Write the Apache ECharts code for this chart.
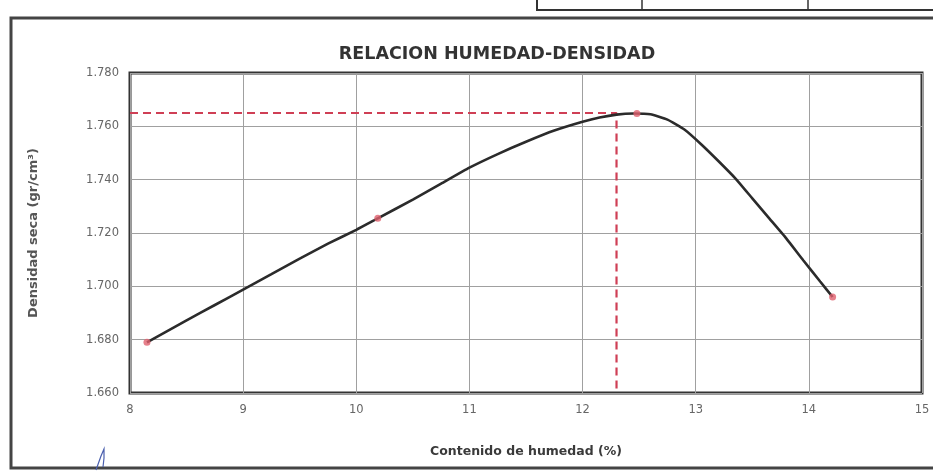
<!DOCTYPE html>
<html>
<head>
<meta charset="utf-8">
<script src="https://cdn.jsdelivr.net/npm/echarts@6/dist/echarts.min.js"></script>
<style>
  html, body { margin: 0; padding: 0; background: #fff; }
  #chart { width: 933px; height: 473px; }
</style>
</head>
<body>
<div id="chart"></div>
<script>
// Proctor test: measured moisture / dry density points
const moisture = [8.15, 10.19, 12.48, 14.21];
const dryDensity = [1.679, 1.7255, 1.7648, 1.696];

// Fitted compaction curve, traced point by point
const curveMoisture = [8.15, 8.5, 8.75, 9.0, 9.25, 9.5, 9.75, 10.0, 10.19, 10.5, 10.75, 11.0, 11.25, 11.5, 11.75, 12.0, 12.15, 12.3, 12.45, 12.6, 12.75, 12.9, 13.05, 13.2, 13.35, 13.5, 13.65, 13.8, 13.95, 14.1, 14.21];
const curveDensity  = [1.679, 1.6872, 1.6930, 1.6988, 1.7046, 1.7104, 1.7160, 1.7212, 1.7255, 1.7325, 1.7385, 1.7445, 1.7496, 1.7542, 1.7584, 1.7617, 1.7633, 1.7644, 1.7648, 1.7645, 1.7625, 1.7588, 1.7532, 1.7470, 1.7405, 1.7330, 1.7255, 1.7180, 1.7098, 1.7018, 1.6960];

// Maximum dry density and optimum moisture content
const optimumMoisture = 12.3;
const maxDensity = 1.765;

// Axis ranges
const xTicks = [8, 9, 10, 11, 12, 13, 14, 15];
const yTicks = [1.660, 1.680, 1.700, 1.720, 1.740, 1.760, 1.780];

const chart = echarts.init(document.getElementById('chart'), null, { renderer: 'canvas' });

const FONT = 'DejaVu Sans, Liberation Sans, Arial, sans-serif';
const labelFont = { fontFamily: FONT, fontSize: 11.5, color: '#666' };

chart.setOption({
  backgroundColor: '#ffffff',
  animation: false,
  title: {
    text: 'RELACION HUMEDAD-DENSIDAD',
    left: 492,
    top: 40,
    textAlign: 'center',
    textStyle: { fontFamily: FONT, fontSize: 17.5, fontWeight: 'bold', color: '#333' }
  },
  grid: {
    left: 130, right: 11, top: 73, bottom: 80,
    show: true,
    borderColor: '#333',
    borderWidth: 3,
    backgroundColor: 'transparent'
  },
  xAxis: {
    type: 'value',
    min: xTicks[0],
    max: xTicks[xTicks.length - 1],
    interval: 1,
    name: 'Contenido de humedad (%)',
    nameLocation: 'middle',
    nameGap: 52,
    nameTextStyle: { fontFamily: FONT, fontSize: 12.5, fontWeight: 'bold', color: '#3a3a3a' },
    axisLine: { show: false },
    axisTick: { show: false },
    axisLabel: Object.assign({ margin: 11 }, labelFont),
    splitLine: { show: true, lineStyle: { color: '#a0a0a0', width: 1 } }
  },
  yAxis: {
    type: 'value',
    min: yTicks[0],
    max: yTicks[yTicks.length - 1],
    interval: 0.02,
    name: 'Densidad seca (gr/cm³)',
    nameLocation: 'middle',
    nameGap: 90,
    nameTextStyle: { fontFamily: FONT, fontSize: 13, fontWeight: 'bold', color: '#555' },
    axisLine: { show: false },
    axisTick: { show: false },
    axisLabel: Object.assign({ margin: 11, formatter: v => v.toFixed(3) }, labelFont),
    splitLine: { show: true, lineStyle: { color: '#a0a0a0', width: 1 } }
  },
  series: [
    {
      name: 'guide',
      type: 'line',
      data: [[xTicks[0], maxDensity], [optimumMoisture, maxDensity], [optimumMoisture, yTicks[0]]],
      showSymbol: false,
      lineStyle: { color: '#cf3f55', width: 2.2, type: [8, 5] },
      z: 3
    },
    {
      name: 'curve',
      type: 'line',
      data: curveMoisture.map((x, i) => [x, curveDensity[i]]),
      smooth: 0.15,
      showSymbol: false,
      lineStyle: { color: '#2b2b2b', width: 2.6 },
      z: 4
    },
    {
      name: 'ensayos',
      type: 'scatter',
      data: moisture.map((x, i) => [x, dryDensity[i]]),
      symbolSize: 7,
      itemStyle: { color: '#e0606e' },
      z: 5
    }
  ],
  graphic: [
    // outer frame
    { type: 'rect', shape: { x: 11, y: 18, width: 940, height: 450 }, style: { fill: 'none', stroke: '#444', lineWidth: 3 }, z: -1 },
    // header table cell above the frame
    { type: 'rect', shape: { x: 537, y: -10, width: 410, height: 20 }, style: { fill: 'none', stroke: '#333', lineWidth: 2 } },
    { type: 'line', shape: { x1: 642, y1: -2, x2: 642, y2: 10 }, style: { stroke: '#333', lineWidth: 1.5 } },
    { type: 'line', shape: { x1: 808, y1: -2, x2: 808, y2: 10 }, style: { stroke: '#333', lineWidth: 1.5 } },
    // pen mark near the bottom-left corner
    { type: 'polyline', shape: { points: [[96, 470], [101, 456], [104, 449], [104, 458], [103, 467]] }, style: { fill: 'none', stroke: '#4a5fae', lineWidth: 1.2 } }
  ]
});
</script>
</body>
</html>
